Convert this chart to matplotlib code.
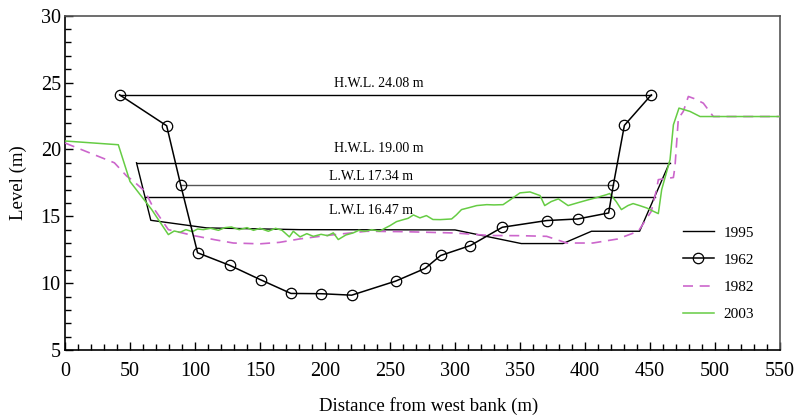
import matplotlib
matplotlib.use("Agg")
import matplotlib.pyplot as plt
from matplotlib.ticker import MultipleLocator

plt.rcParams['font.family'] = ['Liberation Serif', 'DejaVu Serif']

# ---- data ----
x_1962 = [42, 78.2, 89, 102, 127, 150.5, 173.8, 197, 220.5, 254.3, 277, 289, 311.8,
          336.4, 370.5, 394.4, 418.2, 421.8, 430.3, 451]
y_1962 = [24.08, 21.77, 17.34, 12.27, 11.32, 10.25, 9.23, 9.21, 9.1, 10.15, 11.1, 12.07, 12.81,
          14.18, 14.68, 14.8, 15.25, 17.34, 21.8, 24.08]

x_1995 = [55, 66, 109, 181, 300, 351, 383, 405, 442, 465]
y_1995 = [19.0, 14.7, 14.13, 14.0, 13.98, 12.96, 12.96, 13.88, 13.88, 19.0]

x_1982 = [0, 38, 47.5, 51.3, 61.5, 68, 79.5, 98.7, 115, 129.5, 150, 165, 180.8, 200, 232, 260,
          300, 327, 350, 370.5, 386, 406, 425, 441, 451, 455, 456.4, 468, 469.2, 471.8, 475.6,
          479.5, 484, 491, 498.7, 550]
y_1982 = [20.48, 19.0, 18.0, 17.74, 16.87, 15.63, 14.0, 13.56, 13.25, 13.0, 12.94, 13.05, 13.31,
          13.55, 13.88, 13.85, 13.75, 13.56, 13.55, 13.5, 13.0, 13.0, 13.3, 13.88, 15.37, 17.0,
          17.74, 17.9, 18.7, 22.3, 22.84, 23.96, 23.8, 23.46, 22.46, 22.46]

x_2003 = [0, 41, 50, 66.7, 79.5, 84, 88.5, 93, 98, 102, 106.4, 112, 118, 123, 128, 134, 140, 145,
          150, 156.4, 162, 167, 172.6, 175.6, 180.8, 186, 191, 197, 202, 206.4, 210.2, 216, 221.8,
          226, 230.8, 236, 242, 246, 250, 255, 260.3, 264, 268, 273, 278, 283, 288.5, 297.4, 301,
          305, 311, 316.7, 324.4, 330, 337, 342, 350, 357.7, 365.4, 369, 374, 379.5, 387, 394,
          401.3, 409, 416.7, 419, 424, 428, 433, 437, 442, 447.5, 452, 456.4, 459, 465.4, 468,
          472.3, 480.8, 488.5, 500, 550]
y_2003 = [20.63, 20.35, 17.6, 15.5, 13.63, 13.9, 13.8, 14.0, 13.85, 14.05, 14.0, 14.1, 13.95, 14.15,
          14.2, 14.0, 14.15, 13.95, 14.1, 13.88, 14.1, 13.95, 13.46, 13.88, 13.46, 13.7, 13.5, 13.65,
          13.55, 13.76, 13.26, 13.6, 13.76, 13.95, 13.88, 14.0, 13.88, 14.1, 14.3, 14.6, 14.75,
          14.85, 15.1, 14.88, 15.05, 14.76, 14.75, 14.8, 15.1, 15.5, 15.65, 15.8, 15.87, 15.85,
          15.87, 16.2, 16.75, 16.82, 16.55, 15.8, 16.1, 16.3, 15.8, 16.0, 16.2, 16.4, 16.62, 16.7,
          16.1, 15.5, 15.8, 15.95, 15.8, 15.62, 15.4, 15.2, 17.0, 19.23, 21.84, 23.09, 22.84,
          22.46, 22.46, 22.46]

# water levels: label, level, x start, x end, colour
wl_labels = ["H.W.L. 24.08 m", "H.W.L. 19.00 m", "L.W.L 17.34 m", "L.W.L 16.47 m"]
wl_levels = [24.08, 19.00, 17.34, 16.47]
wl_x0 = [42, 55, 89, 61.5]
wl_x1 = [451, 465, 421.8, 453.7]
wl_text_x = [241, 241, 235.5, 235.5]
wl_text_y = [24.9, 20.05, 18.0, 15.45]
wl_colors = ["black", "black", "#555555", "black"]

# ---- figure ----
fig = plt.figure(figsize=(8.07, 4.18), dpi=100)
ax = fig.add_axes([65/807, 1-350/418, 715/807, (350-15.7)/418])

for lev, a, b, c in zip(wl_levels, wl_x0, wl_x1, wl_colors):
    ax.plot([a, b], [lev, lev], color=c, lw=1.0, zorder=2)
for lab, tx, ty in zip(wl_labels, wl_text_x, wl_text_y):
    ax.text(tx, ty, lab, ha='center', va='center', fontsize=10)

l95, = ax.plot(x_1995, y_1995, color='black', lw=1.0, label='1995', zorder=3)
l62, = ax.plot(x_1962, y_1962, color='black', lw=1.1, marker='o', ms=7.5, mfc='none',
               mec='black', mew=0.9, label='1962', zorder=4)
l82, = ax.plot(x_1982, y_1982, color='#CC66CC', lw=1.2, ls=(0, (6, 4)), label='1982', zorder=3)
l03, = ax.plot(x_2003, y_2003, color='#66CC44', lw=1.1, label='2003', zorder=3)

ax.set_xlim(0, 550)
ax.set_ylim(5, 30)
ax.xaxis.set_major_locator(MultipleLocator(50))
ax.xaxis.set_minor_locator(MultipleLocator(10))
ax.yaxis.set_major_locator(MultipleLocator(5))
ax.yaxis.set_minor_locator(MultipleLocator(1))
ax.tick_params(which='both', direction='in', top=False, right=False, width=1.0)
ax.tick_params(which='major', length=6, labelsize=14.5)
ax.tick_params(axis='x', which='major', pad=9)
ax.tick_params(axis='y', which='major', pad=3)
ax.tick_params(which='minor', length=4)

for s in ['left', 'bottom']:
    ax.spines[s].set_color('black')
    ax.spines[s].set_linewidth(1.2)
for s in ['top', 'right']:
    ax.spines[s].set_color('#555555')
    ax.spines[s].set_linewidth(1.2)

ax.set_xlabel("Distance from west bank (m)", fontsize=13.5)
ax.set_ylabel("Level (m)", fontsize=13.5)
ax.xaxis.set_label_coords(0.509, -0.141)
ax.yaxis.set_label_coords(-0.053, 0.5)

ax.legend(handles=[l95, l62, l82, l03], frameon=False, fontsize=11, handlelength=2.0,
          handletextpad=0.65, labelspacing=0.88, borderpad=0, borderaxespad=0,
          loc='upper left', bbox_to_anchor=(683/807, 1-226/418),
          bbox_transform=fig.transFigure)

fig.savefig("out.png", dpi=100)
